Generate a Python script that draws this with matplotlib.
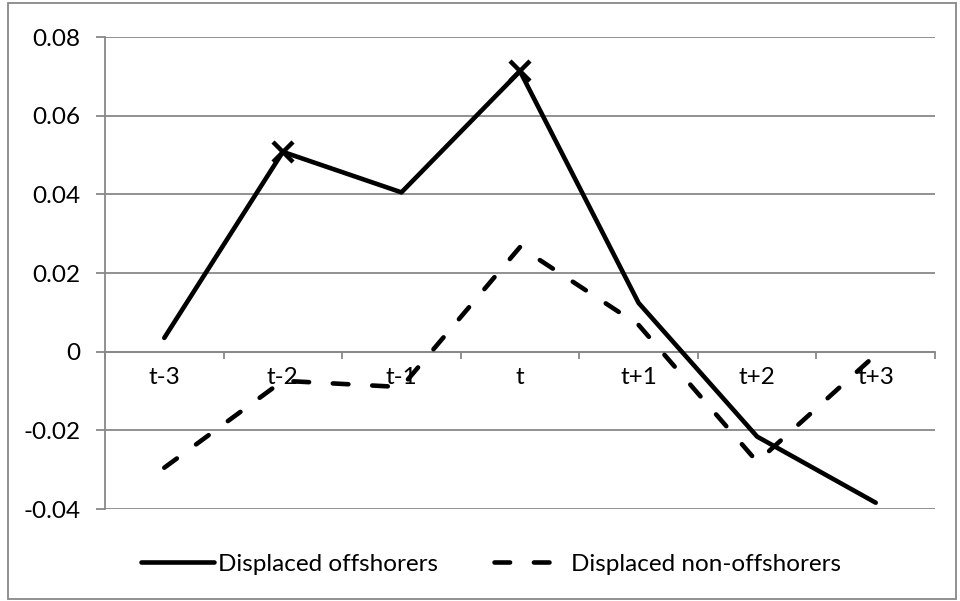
import matplotlib
matplotlib.use("Agg")
import matplotlib.pyplot as plt
from matplotlib.patches import Rectangle
from matplotlib.ticker import FixedLocator

categories = ["t-3", "t-2", "t-1", "t", "t+1", "t+2", "t+3"]
offshorers = [0.0035, 0.0508, 0.0405, 0.0713, 0.0124, -0.0216, -0.0384]
non_offshorers = [-0.0295, -0.0074, -0.0090, 0.0266, 0.0068, -0.0280, -0.0008]
marker_idx = [1, 3]
y_ticks = [-0.04, -0.02, 0.0, 0.02, 0.04, 0.06, 0.08]
y_labels = ["-0.04", "-0.02", "0", "0.02", "0.04", "0.06", "0.08"]

plt.rcParams['font.family'] = ['Lato', 'DejaVu Sans']
grid_c = "#888888"
fs = 17.5

fig = plt.figure(figsize=(9.6, 6.01), dpi=100)
ax = fig.add_axes([105/960, 1-509/601, 830/960, (509-37)/601])

x = list(range(len(categories)))
l1, = ax.plot(x, offshorers, color="black", lw=3.3, solid_capstyle="round",
              solid_joinstyle="round", label="Displaced offshorers", zorder=3)
ax.plot([x[i] for i in marker_idx], [offshorers[i] for i in marker_idx],
        ls="none", marker="x", ms=14, mew=3.2, color="black", zorder=4)
l2, = ax.plot(x, non_offshorers, color="black", lw=3.3, dashes=(3.4, 5.2),
              dash_capstyle="round", label="Displaced non-offshorers", zorder=3)

ax.set_xlim(-0.5, len(categories) - 0.5)
ax.set_ylim(-0.04, 0.08)
ax.set_yticks(y_ticks)
ax.set_yticklabels(y_labels, fontsize=fs)
ax.grid(axis="y", color=grid_c, lw=1.3)
ax.set_axisbelow(True)

for s in ["top", "right"]:
    ax.spines[s].set_visible(False)
ax.spines["left"].set_color(grid_c)
ax.spines["left"].set_linewidth(1.3)
ax.spines["bottom"].set_position(("data", 0))
ax.spines["bottom"].set_color(grid_c)
ax.spines["bottom"].set_linewidth(1.3)

ax.set_xticks(x)
ax.set_xticklabels(categories, fontsize=fs)
ax.tick_params(axis="x", which="major", length=0, pad=11)
ax.xaxis.set_minor_locator(FixedLocator([i - 0.5 for i in range(len(categories) + 1)]))
ax.tick_params(axis="x", which="minor", length=5, width=1.3, color=grid_c, direction="out")
ax.tick_params(axis="y", length=6.5, width=1.3, color=grid_c, pad=11)

fig.legend(handles=[l1, l2], loc="center", bbox_to_anchor=(0.5 + 11/960, 1 - 564/601),
           ncol=2, frameon=False, fontsize=fs, handlelength=3.0,
           handletextpad=0.15, columnspacing=2.3)

fig.add_artist(Rectangle((8/960, 2/601), 948/960, 596/601, transform=fig.transFigure,
                         fill=False, edgecolor=grid_c, lw=1.3))

fig.savefig("out.png", dpi=100)
